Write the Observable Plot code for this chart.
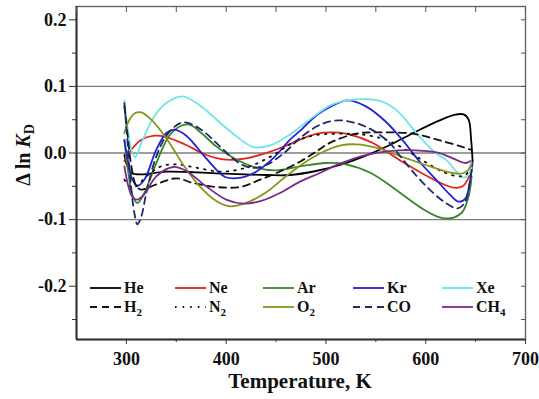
<!DOCTYPE html>
<html><head><meta charset="utf-8">
<script src="https://cdn.jsdelivr.net/npm/d3@7"></script>
<script src="https://cdn.jsdelivr.net/npm/@observablehq/plot@0.6"></script>
<style>body{margin:0;background:#fff} svg{display:block}</style>
</head><body><div id="chart"></div>
<script>
// Series values: [Temperature K, Δ ln KD]
const He = [[298,-0.003],[301,-0.02],[305,-0.03],[315,-0.032],[340,-0.028],[370,-0.029],[400,-0.031],[440,-0.033],[464,-0.033],[490,-0.027],[514,-0.018],[540,-0.004],[564,0.012],[590,0.032],[614,0.049],[628,0.057],[638,0.058],[643,0.05],[645.5,0.02],[647,-0.013]];
const Ne = [[298,-0.012],[305,0.005],[315,0.02],[328,0.026],[340,0.024],[360,0.012],[380,-0.003],[400,-0.01],[420,-0.008],[440,0.0],[457,0.009],[474,0.02],[491,0.029],[505,0.031],[520,0.029],[547,0.015],[574,-0.011],[597,-0.031],[615,-0.045],[628,-0.052],[637,-0.05],[642,-0.04],[646,-0.025]];
const Ar = [[298,0.02],[302,-0.03],[306,-0.063],[311,-0.075],[318,-0.06],[330,-0.015],[345,0.03],[362,0.043],[375,0.03],[390,0.01],[407,-0.007],[430,-0.022],[450,-0.026],[474,-0.02],[500,-0.015],[520,-0.017],[545,-0.03],[570,-0.055],[595,-0.082],[615,-0.097],[628,-0.097],[637,-0.088],[643,-0.065],[646,-0.035]];
const Kr = [[298,0.019],[302,-0.015],[306,-0.04],[311,-0.049],[318,-0.04],[330,0.005],[340,0.03],[348,0.035],[360,0.026],[380,-0.008],[399,-0.036],[415,-0.037],[430,-0.028],[447,-0.008],[464,0.02],[476,0.036],[490,0.056],[505,0.07],[522,0.079],[540,0.07],[560,0.047],[577,0.019],[595,-0.015],[611,-0.041],[624,-0.062],[633,-0.073],[640,-0.068],[644,-0.045],[647,-0.015]];
const Xe = [[298,0.079],[301,0.04],[305,0.005],[309,-0.006],[315,0.015],[327,0.053],[340,0.075],[356,0.085],[375,0.07],[392,0.048],[407,0.029],[427,0.009],[445,0.012],[460,0.024],[474,0.039],[488,0.055],[505,0.072],[522,0.079],[540,0.081],[555,0.078],[571,0.064],[594,0.024],[610,0.0],[621,-0.011],[632,-0.03],[638,-0.037],[643,-0.033],[646,-0.022]];
const H2 = [[298,0.07],[301,0.03],[305,-0.02],[310,-0.05],[315,-0.055],[322,-0.052],[335,-0.044],[350,-0.038],[367,-0.045],[390,-0.051],[414,-0.051],[434,-0.04],[455,-0.027],[474,-0.013],[491,0.003],[505,0.016],[530,0.029],[555,0.031],[587,0.029],[614,0.019],[635,0.01],[645,0.005]];
const N2 = [[298,-0.04],[303,-0.05],[310,-0.05],[320,-0.035],[335,-0.02],[350,-0.017],[370,-0.022],[395,-0.028],[420,-0.022],[445,-0.005],[470,0.018],[490,0.027],[515,0.029],[540,0.027],[560,0.02],[580,0.005],[600,-0.014],[620,-0.03],[633,-0.035],[640,-0.033],[645,-0.02]];
const O2 = [[298,0.03],[303,0.05],[309,0.06],[315,0.061],[325,0.05],[341,0.02],[358,-0.02],[374,-0.051],[390,-0.072],[404,-0.08],[420,-0.075],[441,-0.058],[460,-0.035],[478,-0.015],[495,0.0],[514,0.011],[531,0.013],[550,0.008],[575,-0.005],[600,-0.018],[627,-0.03],[638,-0.03],[643,-0.025],[646,-0.015]];
const CO = [[298,0.075],[301,0.02],[304,-0.04],[308,-0.09],[311,-0.107],[315,-0.095],[320,-0.06],[330,-0.005],[342,0.03],[357,0.046],[375,0.035],[395,0.008],[410,-0.012],[424,-0.022],[440,-0.018],[458,0.0],[476,0.025],[495,0.043],[512,0.049],[530,0.045],[547,0.034],[564,0.015],[574,-0.004],[590,-0.033],[604,-0.055],[620,-0.075],[632,-0.083],[639,-0.075],[643,-0.055],[646,-0.025]];
const CH4 = [[298,-0.02],[302,-0.05],[306,-0.066],[311,-0.07],[318,-0.062],[330,-0.035],[347,-0.021],[360,-0.027],[380,-0.05],[400,-0.07],[417,-0.076],[435,-0.072],[454,-0.06],[474,-0.043],[494,-0.03],[514,-0.016],[540,-0.003],[564,0.003],[590,0.004],[614,0.0],[630,-0.01],[640,-0.015],[645,-0.012]];

const seriesNames = ["He","Ne","Ar","Kr","Xe","H2","N2","O2","CO","CH4"];
const seriesData = [He, Ne, Ar, Kr, Xe, H2, N2, O2, CO, CH4];
const legendMain = ["He","Ne","Ar","Kr","Xe","H","N","O","CO","CH"];
const legendSub = ["","","","","","2","2","2","","4"];

const xTicks = [300,400,500,600,700];
const xMinor = [350,450,550,650];
const xTop = [250,300,350,400,450,500,550,600,650,700];
const yTicks = [-0.2,-0.1,0.0,0.1,0.2];
const yMinor = [-0.25,-0.15,-0.05,0.05,0.15];
const yRight = [-0.25,-0.2,-0.15,-0.1,-0.05,0,0.05,0.1,0.15,0.2];
const gridValues = [-0.1,0,0.1];

// styles
const seriesColors = ["#000000","#e0251e","#3b8626","#2323d2","#6fe4ea","#111111","#111111","#85961a","#1f2a6b","#7a2a8c"];
const seriesDash = [null,null,null,null,null,"7,5","1.6,6",null,"7,5",null];

const rows = seriesNames.flatMap((name,i)=> seriesData[i].map(([T,v])=>({name,T,v})));
const font = '"Liberation Serif","Times New Roman",serif';
const blank = () => "";

const marks = [
  Plot.ruleY(gridValues, {stroke:"#7d7d7d", strokeWidth:1.4}),
  ...seriesNames.map((name,i)=> Plot.line(rows.filter(d=>d.name===name), {
    x:"T", y:"v", stroke: seriesColors[i], strokeWidth:1.8,
    strokeDasharray: seriesDash[i] || undefined, curve:"catmull-rom", clip:true
  })),
  Plot.frame({stroke:"#666", strokeWidth:1.4}),
  Plot.ruleX([250], {stroke:"#333", strokeWidth:2}),
  Plot.ruleY([-0.28], {stroke:"#333", strokeWidth:2}),
  Plot.axisY(yTicks, {anchor:"left", tickSize:7, tickPadding:3, stroke:"#333", tickFormat: d => d.toFixed(1), fontSize:18, fontWeight:"bold", fontFamily:font, fill:"#111", label:null}),
  Plot.axisY(yMinor, {anchor:"left", tickSize:4, stroke:"#333", tickFormat: blank, label:null}),
  Plot.axisY(yRight, {anchor:"right", tickSize:-5, stroke:"#555", tickFormat: blank, label:null}),
  Plot.axisX(xTop, {anchor:"top", tickSize:-5, stroke:"#555", tickFormat: blank, label:null}),
  Plot.axisX(xTicks, {anchor:"bottom", tickSize:5, tickPadding:8, stroke:"#333", tickFormat: d => String(d), fontSize:18, fontWeight:"bold", fontFamily:font, fill:"#111", label:null}),
  Plot.axisX(xMinor, {anchor:"bottom", tickSize:3, stroke:"#333", tickFormat: blank, label:null})
];

const plot = Plot.plot({
  width:539, height:399,
  marginTop:6, marginRight:14, marginBottom:60, marginLeft:76,
  x:{domain:[250,700]},
  y:{domain:[-0.28,0.22]},
  style:{background:"#fff", fontFamily:font},
  marks
});
document.getElementById("chart").appendChild(plot);

const svg = d3.select(plot);
// y label
const yl = svg.append("text").attr("transform","translate(30,155) rotate(-90)")
  .attr("text-anchor","middle").attr("font-family",font).attr("font-weight","bold")
  .attr("font-size",20).attr("fill","#111");
yl.append("tspan").text("\u0394 ln ");
yl.append("tspan").attr("font-style","italic").text("K");
yl.append("tspan").attr("font-size",14).attr("dy",4).text("D");
// x label
svg.append("text").attr("x",300).attr("y",388).attr("text-anchor","middle")
  .attr("font-family",font).attr("font-weight","bold").attr("font-size",21).attr("fill","#111")
  .text("Temperature, K");
// legend
const legCols = [90,175,263,353,442];
const legRows = [288,307];
const lg = svg.append("g").attr("font-family",font).attr("font-weight","bold").attr("font-size",16)
  .attr("fill","#111").attr("text-anchor","start");
seriesNames.forEach((name,i)=>{
  const x = legCols[i%5], y = legRows[Math.floor(i/5)];
  lg.append("line").attr("x1",x).attr("x2",x+31).attr("y1",y).attr("y2",y)
    .attr("stroke",seriesColors[i]).attr("stroke-width",1.8)
    .attr("stroke-dasharray",seriesDash[i]);
  const t = lg.append("text").attr("x",x+34).attr("y",y+5).attr("text-anchor","start");
  t.append("tspan").text(legendMain[i]);
  if (legendSub[i]) t.append("tspan").attr("font-size",11).attr("dy",4).text(legendSub[i]);
});
</script></body></html>
